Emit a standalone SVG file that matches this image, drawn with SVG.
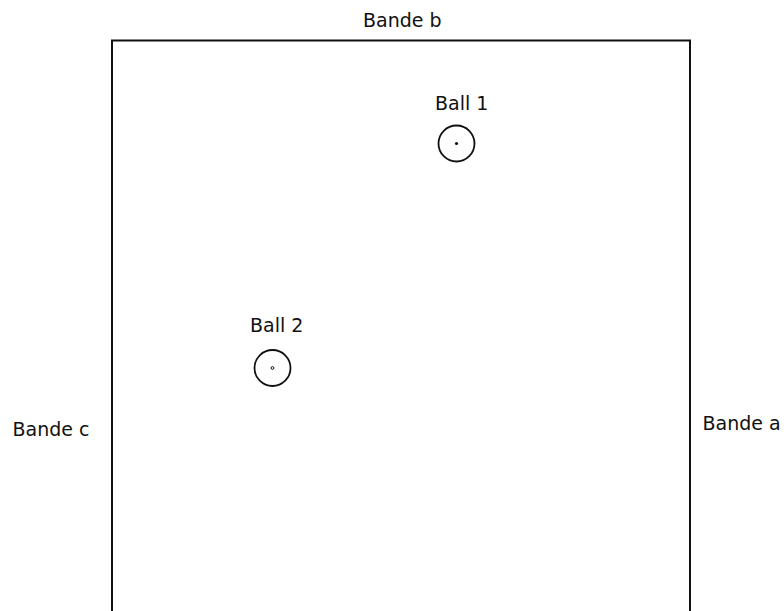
<svg xmlns="http://www.w3.org/2000/svg" width="784" height="611" viewBox="0 0 784 611">
<style>
text{font-family:"DejaVu Sans","Liberation Sans",sans-serif;font-size:19px;fill:#111}
.ball{fill:none;stroke:#111;stroke-width:1.8}
.table{fill:none;stroke:#111;stroke-width:2}
</style>
<rect width="784" height="611" fill="#fff"/>
<g id="table">
<path class="table" d="M112,611 V40.5 H690 V611"/>
</g>
<g id="bande-b"><text x="363" y="26.5">Bande b</text></g>
<g id="bande-c"><text x="12.5" y="436">Bande c</text></g>
<g id="bande-a"><text x="702.5" y="430">Bande a</text></g>
<g id="ball-1">
<text x="435" y="110">Ball 1</text>
<circle class="ball" cx="456.5" cy="143.5" r="18"/>
<circle cx="456.5" cy="143.5" r="1.6" fill="#111"/>
</g>
<g id="ball-2">
<text x="250" y="332">Ball 2</text>
<circle class="ball" cx="272.5" cy="368" r="18"/>
<circle cx="272.5" cy="368" r="1.4" fill="none" stroke="#111" stroke-width="1"/>
</g>
<g id="connectors"/>
</svg>
